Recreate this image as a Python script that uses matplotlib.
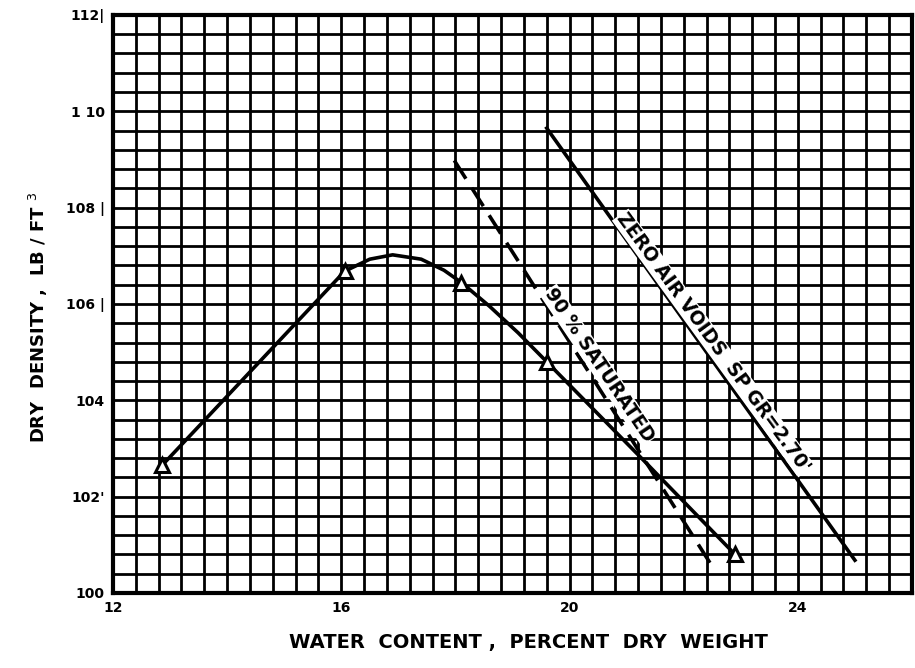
import numpy as np
import matplotlib
matplotlib.use("Agg")
import matplotlib.pyplot as plt

# compaction test points (water content %, dry density lb/ft3)
test_w = [12.86, 16.06, 18.1, 19.6, 22.9]
test_d = [102.65, 106.68, 106.43, 104.8, 100.8]

# hand drawn compaction curve
curve_w = [12.86, 16.06, 16.5, 16.9, 17.4, 17.8, 18.1, 18.6, 19.1, 19.6, 21.3, 22.9]
curve_d = [102.65, 106.68, 106.93, 107.02, 106.93, 106.7, 106.45, 105.95, 105.4, 104.8, 102.75, 100.8]

# 90 % saturated line
sat90_w = [17.98, 22.56]
sat90_d = [108.98, 100.44]

# zero air voids line
zav_w = [19.6, 25.0]
zav_d = [109.65, 100.68]

xticks = [12, 16, 20, 24]
yticks = [100, 102, 104, 106, 108, 110, 112]
ytick_labels = ["100", "102'", "104", "106 |", "108 |", "1 10", "112|"]

fig = plt.figure(figsize=(9.15, 6.68), dpi=100)
ax = fig.add_axes([0.1235, 0.1123, 0.8732, 0.8653])
ax.set_xlim(12, 26)
ax.set_ylim(100, 112)

# graph paper grid every 0.4
for gx in np.arange(12, 26.01, 0.4):
    ax.axvline(gx, color="black", lw=2.0, zorder=1)
for gy in np.arange(100, 112.01, 0.4):
    ax.axhline(gy, color="black", lw=2.0, zorder=1)
for s in ax.spines.values():
    s.set_linewidth(3)

ax.plot(curve_w, curve_d, color="black", lw=2.6, zorder=3)
ax.plot(test_w, test_d, ls="none", marker="^", ms=10, mfc="white",
        mec="black", mew=2.2, zorder=4)
ax.plot(sat90_w, sat90_d, color="black", lw=2.6, dashes=(6, 3), zorder=3)
ax.plot(zav_w, zav_d, color="black", lw=2.6, zorder=3)

ax.text(22.52, 105.19, "ZERO AIR VOIDS  SP GR=2.70'", rotation=-54,
        rotation_mode="anchor", ha="center", va="center", fontsize=13.5,
        fontweight="bold", zorder=5,
        bbox=dict(facecolor="white", edgecolor="none", pad=0.5))
ax.text(20.52, 104.73, "90 % SATURATED", rotation=-56,
        rotation_mode="anchor", ha="center", va="center", fontsize=13.5,
        fontweight="bold", zorder=5,
        bbox=dict(facecolor="white", edgecolor="none", pad=0.5))

ax.set_xticks(xticks)
ax.set_xticklabels([str(t) for t in xticks], fontsize=10, fontweight="bold")
ax.set_yticks(yticks)
ax.set_yticklabels(ytick_labels, fontsize=10, fontweight="bold")
ax.tick_params(length=0, pad=6)

fig.text(0.577, 0.038, "WATER  CONTENT ,  PERCENT  DRY  WEIGHT", ha="center",
         va="center", fontsize=14, fontweight="bold")
fig.text(0.042, 0.525, "DRY  DENSITY ,  LB / FT $^{3}$", rotation=90, ha="center",
         va="center", fontsize=13, fontweight="bold")

fig.savefig("out.png", dpi=100)
